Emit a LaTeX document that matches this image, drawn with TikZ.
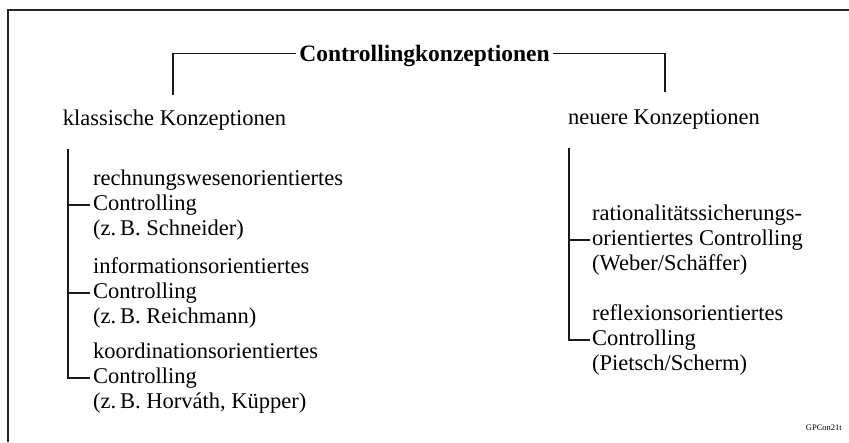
\documentclass[tikz,border=0pt]{standalone}
\usepackage{fontspec}
\setmainfont{Liberation Serif}
\begin{document}
\begin{tikzpicture}[x=1pt,y=-1pt,
  frame/.style={line width=1.8pt,black!85},
  bracket/.style={line width=1.6pt,black!90},
  treeline/.style={line width=2.2pt,black!90},
  heading/.style={font=\fontsize{23.5}{26}\selectfont\bfseries,inner xsep=3pt,inner ysep=0pt,text height=15pt,text depth=0pt},
  group/.style={font=\fontsize{22.5}{25}\selectfont,inner sep=0pt,anchor=base},
  item/.style={font=\fontsize{22.5}{25}\selectfont,inner sep=0pt,align=left,anchor=west},
  tag/.style={font=\fontsize{8.5}{10}\selectfont,inner sep=0pt,anchor=base east}]
  \useasboundingbox (0,0) rectangle (849,442);
  \fill[white] (0,0) rectangle (849,442);

  % outer frame: top rule and left rule
  \draw[frame] (849,10) -- (8,10) -- (8,442);

  % title with bracket to both groups
  \node[heading,anchor=base] (title) at (424.5,61) {Controllingkonzeptionen};
  \node[group] (klass) at (174.5,125) {klassische Konzeptionen};
  \node[group] (neu) at (664,124) {neuere Konzeptionen};
  \coordinate (klassTop) at (173,95);
  \coordinate (neuTop) at (665,92);
  \draw[bracket] (title.west) -| (klassTop);
  \draw[bracket] (title.east) -| (neuTop);

  % classical conceptions
  \coordinate (Ltop) at (68,149);
  \node[item] (k1) at (93,205) {rechnungswesenorientiertes\\Controlling\\(z.\,B. Schneider)};
  \node[item] (k2) at (93,293) {informationsorientiertes\\Controlling\\(z.\,B. Reichmann)};
  \node[item] (k3) at (93,378) {koordinationsorientiertes\\Controlling\\(z.\,B. Horváth, Küpper)};
  \draw[treeline] (Ltop) |- ([xshift=-3pt]k3.west);
  \draw[treeline] (Ltop |- k1.west) -- ([xshift=-3pt]k1.west);
  \draw[treeline] (Ltop |- k2.west) -- ([xshift=-3pt]k2.west);

  % newer conceptions
  \coordinate (Rtop) at (569,148);
  \node[item] (n1) at (592,240) {rationalitätssicherungs-\\orientiertes Controlling\\(Weber/Schäffer)};
  \node[item] (n2) at (592,340) {reflexionsorientiertes\\Controlling\\(Pietsch/Scherm)};
  \draw[treeline] (Rtop) |- ([xshift=-2pt]n2.west);
  \draw[treeline] (Rtop |- n1.west) -- ([xshift=-2pt]n1.west);

  % figure code
  \node[tag] (code) at (842,430) {GPCon21t};
\end{tikzpicture}
\end{document}
